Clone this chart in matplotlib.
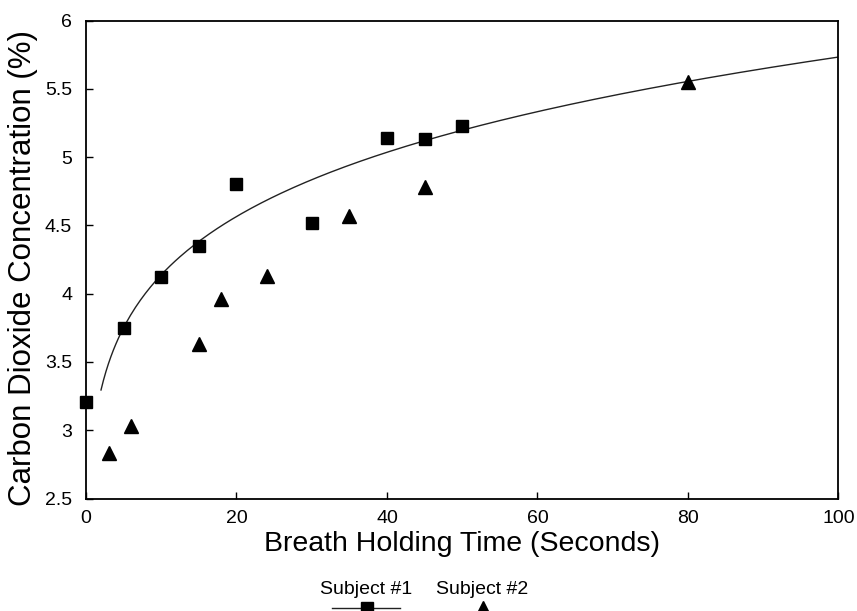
import matplotlib
matplotlib.use("Agg")
import matplotlib.pyplot as plt
import numpy as np
from matplotlib.lines import Line2D
from matplotlib.ticker import FuncFormatter

plt.rcParams["font.family"] = ["Liberation Sans", "DejaVu Sans"]

# data
s1_time = [0, 5, 10, 15, 20, 30, 40, 45, 50]
s1_co2 = [3.21, 3.75, 4.12, 4.35, 4.80, 4.52, 5.14, 5.13, 5.23]
s2_time = [3, 6, 15, 18, 24, 35, 45, 80]
s2_co2 = [2.83, 3.03, 3.63, 3.96, 4.13, 4.57, 4.78, 5.55]
x_ticks = [0, 20, 40, 60, 80, 100]
y_ticks = [2.5, 3, 3.5, 4, 4.5, 5, 5.5, 6]

fig = plt.figure(figsize=(8.57, 6.11), dpi=100)
ax = fig.add_axes([0.1003, 0.1841, 0.8781, 0.7823])

# power-law fit of subject 1 (drawn from 2 s to 100 s, as in the original)
t = np.array(s1_time[1:], float); c = np.array(s1_co2[1:], float)
b, lna = np.polyfit(np.log(t), np.log(c), 1)
xf = np.linspace(2, 100, 300)
ax.plot(xf, np.exp(lna) * xf ** b, color="#222222", lw=1.0, zorder=2)

ax.plot(s1_time, s1_co2, ls="none", marker="s", ms=8.6, color="black", zorder=3, clip_on=False)
ax.plot(s2_time, s2_co2, ls="none", marker="^", ms=10.5, color="black", zorder=3, clip_on=False)

ax.set_xlim(0, 100); ax.set_ylim(2.5, 6)
ax.set_xticks(x_ticks); ax.set_yticks(y_ticks)
ax.yaxis.set_major_formatter(FuncFormatter(lambda v, p: "%g" % v))
ax.tick_params(direction="in", length=5, width=1, labelsize=14, colors="black")
ax.tick_params(axis="x", pad=8)
ax.tick_params(axis="y", pad=10)
for sp in ax.spines.values():
    sp.set_linewidth(1.3)

ax.set_xlabel("Breath Holding Time (Seconds)", fontsize=20.5, labelpad=3)
ax.set_ylabel("Carbon Dioxide Concentration (%)", fontsize=22.5, labelpad=5)
ax.yaxis.label.set_y(0.483)

# legend below the plot, handles under the labels
fig.text(0.427, 0.036, "Subject #1", ha="center", va="center", fontsize=14)
fig.text(0.562, 0.036, "Subject #2", ha="center", va="center", fontsize=14)
fig.add_artist(Line2D([0.387, 0.467], [0.005, 0.005], color="#222222", lw=1.0,
                      transform=fig.transFigure))
fig.add_artist(Line2D([0.428], [0.005], marker="s", ms=8.6, color="black", ls="none",
                      transform=fig.transFigure))
fig.add_artist(Line2D([0.5636], [0.005], marker="^", ms=10.5, color="black", ls="none",
                      transform=fig.transFigure))

fig.savefig("out.png", dpi=100)
